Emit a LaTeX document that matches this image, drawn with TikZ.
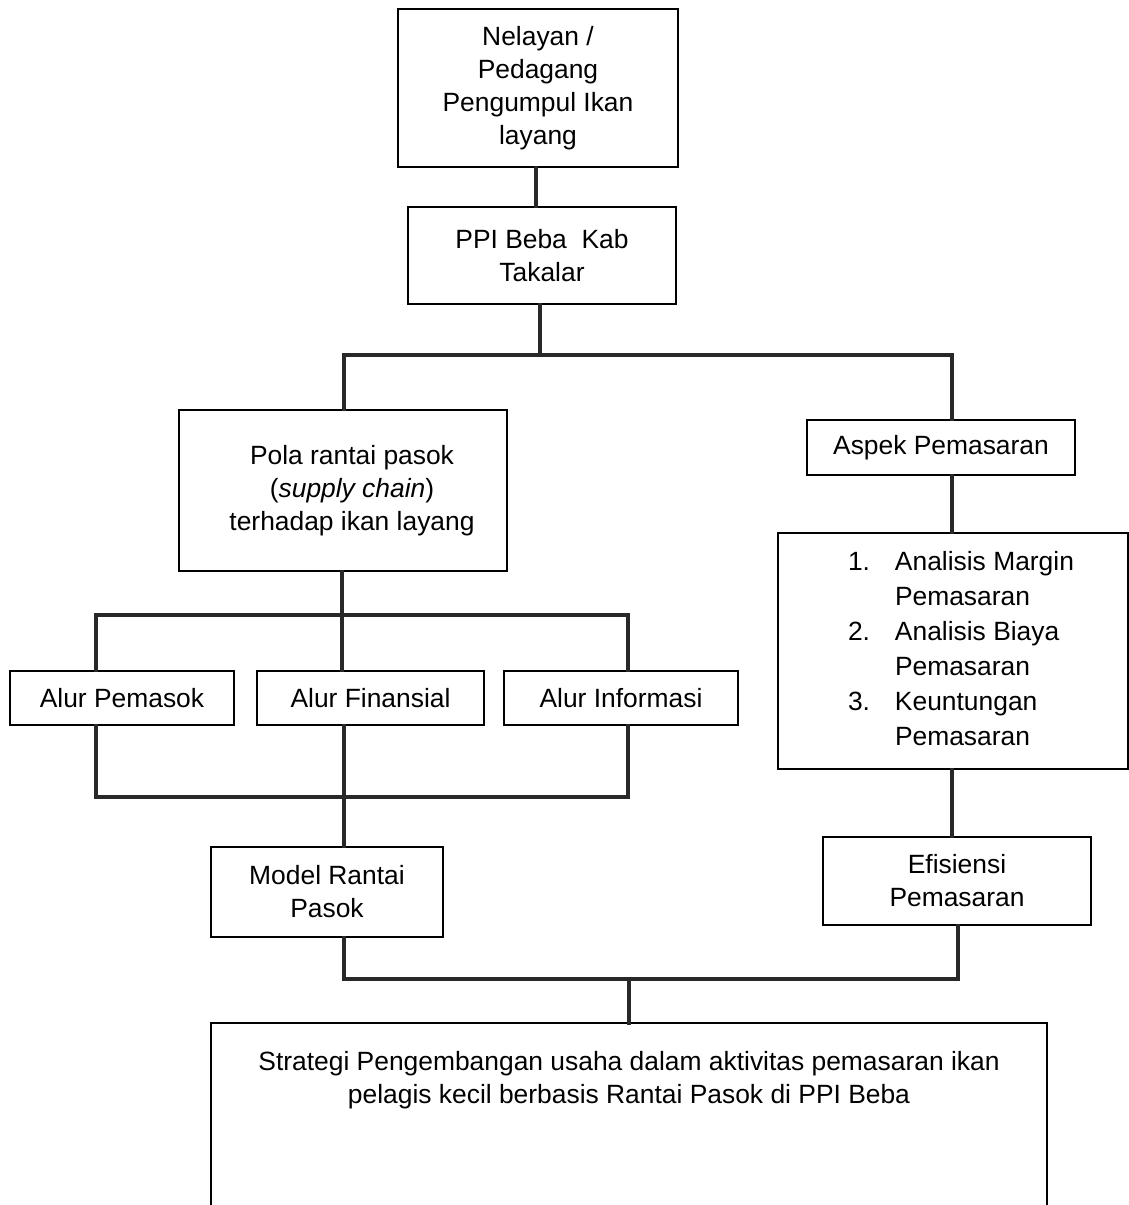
\documentclass[tikz,border=0pt]{standalone}
\usepackage{fontspec}
\setmainfont{Liberation Sans}
\begin{document}
\begin{tikzpicture}[x=0.5pt,y=-0.5pt,
  box/.style={draw=black,line width=1pt,inner sep=0pt,align=center,
    font=\fontsize{13.2}{16.5}\selectfont,text=black},
  conn/.style={draw={rgb,255:red,40;green,40;blue,40},line width=2pt,line cap=rect}]
\useasboundingbox (0,0) rectangle (1129,1205);
% nodes
\node[box,minimum width=140pt,minimum height=79pt] (n1) at (538,88)
  {Nelayan /\\Pedagang\\Pengumpul Ikan\\layang};
\node[box,minimum width=134pt,minimum height=48.5pt] (n2) at (542,255.5)
  {PPI Beba\ \ Kab\\Takalar};
\node[box,minimum width=164pt,minimum height=80.5pt] (n3) at (343,490.5)
  {\hspace*{9pt}Pola rantai pasok\\\hspace*{9pt}(\textit{supply chain})\\\hspace*{9pt}terhadap ikan layang};
\node[box,minimum width=134pt,minimum height=27.5pt] (n4) at (941,447.5)
  {Aspek Pemasaran};
\node[box,minimum width=175pt,minimum height=118pt,font=\fontsize{13.2}{17.5}\selectfont] (n5) at (953,651)
  {\hspace*{8pt}\begin{tabular}{@{}l@{\hspace{12.5pt}}l@{}}
   1. & Analisis Margin\\
      & Pemasaran\\
   2. & Analisis Biaya\\
      & Pemasaran\\
   3. & Keuntungan\\
      & Pemasaran
   \end{tabular}};
\node[box,minimum width=134pt,minimum height=44pt] (n6) at (957,881)
  {Efisiensi\\Pemasaran};
\node[box,minimum width=112pt,minimum height=27pt] (a1) at (122,698) {Alur Pemasok};
\node[box,minimum width=113.5pt,minimum height=27pt] (a2) at (370.5,698) {Alur Finansial};
\node[box,minimum width=117pt,minimum height=27pt] (a3) at (621,698) {Alur Informasi};
\node[box,minimum width=116pt,minimum height=45pt] (m) at (327,892)
  {Model Rantai\\Pasok};
\node[box,draw=none,minimum width=417pt,minimum height=56.5pt] (s) at (629,1080.5)
  {Strategi Pengembangan usaha dalam aktivitas pemasaran ikan\\pelagis kecil berbasis Rantai Pasok di PPI Beba};
\draw[line width=1pt] (s.north west |- 0,1215) -- (s.north west) -- (s.north east) -- (s.north east |- 0,1215);
% junction coordinates
\coordinate (j1) at (540,355);
\coordinate (j1l) at (344,355);
\coordinate (j1r) at (952,355);
\coordinate (j2) at (342,615);
\coordinate (j2l) at (96,615);
\coordinate (j2r) at (628,615);
\coordinate (j3) at (344,797);
\coordinate (j3l) at (96,797);
\coordinate (j3r) at (628,797);
\coordinate (j4l) at (344,979);
\coordinate (j4r) at (958,979);
\coordinate (j4) at (629,979);
% connectors
\draw[conn] (n1.south -| 536,0) -- (n2.north -| 536,0);
\draw[conn] (n2.south -| j1) -- (j1);
\draw[conn] (j1l) -- (j1r);
\draw[conn] (j1l) -- (n3.north -| j1l);
\draw[conn] (j1r) -- (n4.north -| j1r);
\draw[conn] (n4.south -| j1r) -- (n5.north -| j1r);
\draw[conn] (n5.south -| j1r) -- (n6.north -| j1r);
\draw[conn] (n3.south -| j2) -- (j2);
\draw[conn] (j2l) -- (j2r);
\draw[conn] (j2l) -- (a1.north -| j2l);
\draw[conn] (j2) -- (a2.north -| j2);
\draw[conn] (j2r) -- (a3.north -| j2r);
\draw[conn] (a1.south -| j3l) -- (j3l);
\draw[conn] (a3.south -| j3r) -- (j3r);
\draw[conn] (j3l) -- (j3r);
\draw[conn] (a2.south -| j3) -- (m.north -| j3);
\draw[conn] (m.south -| j4l) -- (j4l);
\draw[conn] (n6.south -| j4r) -- (j4r);
\draw[conn] (j4l) -- (j4r);
\draw[conn] (j4) -- (s.north -| j4);
\end{tikzpicture}
\end{document}
